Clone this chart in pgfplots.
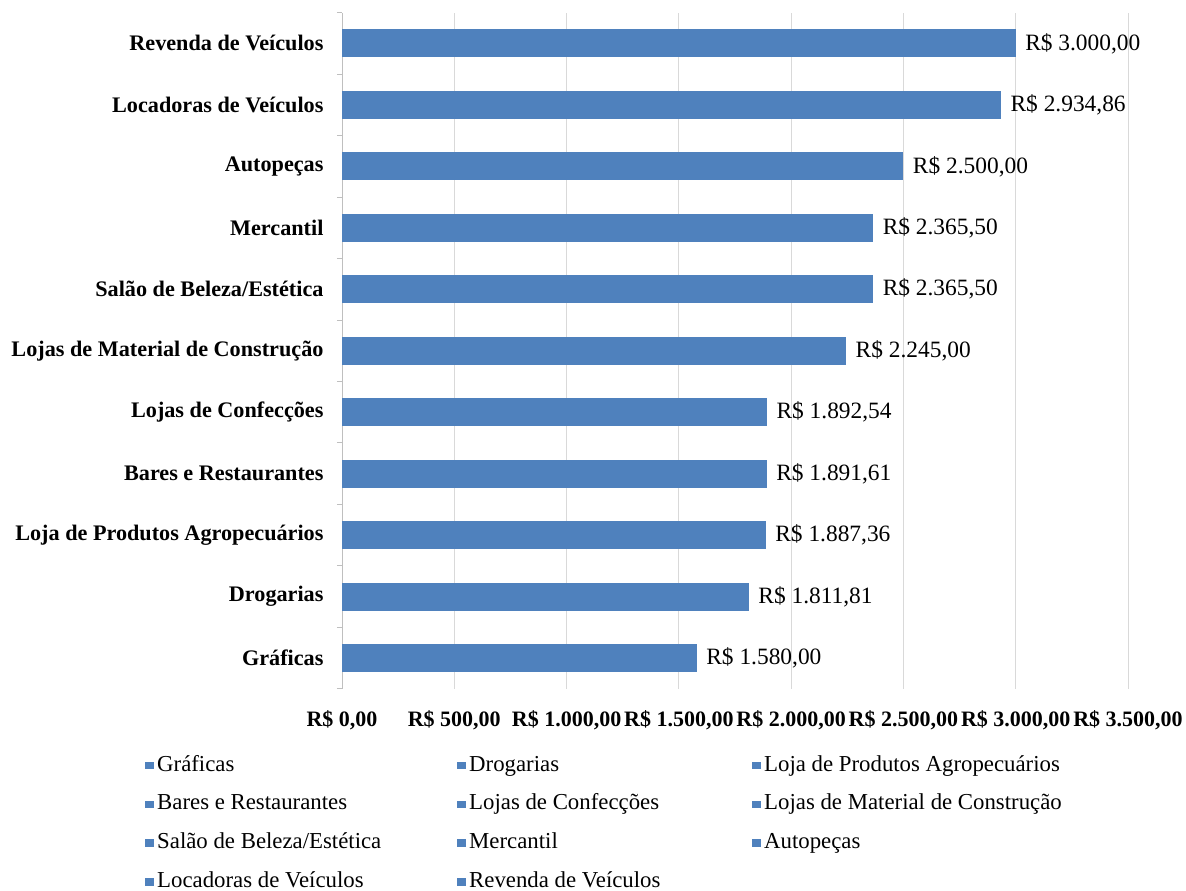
\documentclass[border=0pt]{standalone}
\usepackage{fontspec}
\setmainfont{Liberation Serif}
\usepackage{pgfplots}
\pgfplotsset{compat=1.18}
\definecolor{barblue}{HTML}{4F81BD}
\definecolor{gridgray}{HTML}{D9D9D9}
\definecolor{axgray}{HTML}{BFBFBF}
\pgfplotsset{mybar/.style={xbar, fill=barblue, draw=none, bar shift=0pt, bar width=28pt}}
\begin{document}
\begin{tikzpicture}
\begin{axis}[
  scale only axis, width=786pt, height=676pt,
  xmin=0, xmax=3500, ymin=-0.5, ymax=10.5,
  xbar,
  axis lines*=left,
  x axis line style={draw=none},
  y axis line style={draw=axgray, line width=0.8pt, -},
  xtick={0,500,...,3500},
  xticklabels={{R\$ 0,00},{R\$ 500,00},{R\$ 1.000,00},{R\$ 1.500,00},{R\$ 2.000,00},{R\$ 2.500,00},{R\$ 3.000,00},{R\$ 3.500,00}},
  xticklabel style={font=\fontsize{22}{25}\selectfont\bfseries, yshift=-18pt},
  ytick={0,...,10},
  yticklabels={Gráficas,Drogarias,Loja de Produtos Agropecuários,Bares e Restaurantes,Lojas de Confecções,Lojas de Material de Construção,Salão de Beleza/Estética,Mercantil,Autopeças,Locadoras de Veículos,Revenda de Veículos},
  yticklabel style={font=\fontsize{22.2}{25}\selectfont\bfseries, xshift=-15pt},
  minor ytick={-0.5,0.5,...,10.5},
  major tick length=0pt, minor tick length=5pt, tick align=outside,
  tick style={axgray, line width=0.8pt},
  xmajorgrids, major grid style={gridgray, line width=0.8pt},
  nodes near coords, point meta=explicit symbolic,
  every node near coord/.append style={black, anchor=west, xshift=6pt, font=\fontsize{23.4}{27}\selectfont},
  legend columns=3,
  legend cell align=left,
  legend image code/.code={\fill[barblue] (0pt,-3.8pt) rectangle (9pt,3.8pt); \path (12pt,0pt);},
  legend style={at={(-0.2506,-0.098)}, anchor=north west, draw=none, inner sep=0pt,
    font=\fontsize{22.8}{26}\selectfont, row sep=17.7pt, column sep=0pt,
    nodes={inner xsep=0pt, inner ysep=0pt, text height=16pt, text depth=5pt}},
]
\addplot[mybar] coordinates {(1580.00,0) [R\$ 1.580,00]};
\addlegendentry{\makebox[300pt][l]{Gráficas}}
\addplot[mybar] coordinates {(1811.81,1) [R\$ 1.811,81]};
\addlegendentry{\makebox[283pt][l]{Drogarias}}
\addplot[mybar] coordinates {(1887.36,2) [R\$ 1.887,36]};
\addlegendentry{Loja de Produtos Agropecuários}
\addplot[mybar] coordinates {(1891.61,3) [R\$ 1.891,61]};
\addlegendentry{\makebox[300pt][l]{Bares e Restaurantes}}
\addplot[mybar] coordinates {(1892.54,4) [R\$ 1.892,54]};
\addlegendentry{\makebox[283pt][l]{Lojas de Confecções}}
\addplot[mybar] coordinates {(2245.00,5) [R\$ 2.245,00]};
\addlegendentry{Lojas de Material de Construção}
\addplot[mybar] coordinates {(2365.50,6) [R\$ 2.365,50]};
\addlegendentry{\makebox[300pt][l]{Salão de Beleza/Estética}}
\addplot[mybar] coordinates {(2365.50,7) [R\$ 2.365,50]};
\addlegendentry{\makebox[283pt][l]{Mercantil}}
\addplot[mybar] coordinates {(2500.00,8) [R\$ 2.500,00]};
\addlegendentry{Autopeças}
\addplot[mybar] coordinates {(2934.86,9) [R\$ 2.934,86]};
\addlegendentry{\makebox[300pt][l]{Locadoras de Veículos}}
\addplot[mybar] coordinates {(3000.00,10) [R\$ 3.000,00]};
\addlegendentry{\makebox[283pt][l]{Revenda de Veículos}}
\coordinate (bl) at (rel axis cs:0,0);
\coordinate (tr) at (rel axis cs:1,1);
\end{axis}
\pgfresetboundingbox
\path[use as bounding box] ([shift={(-342pt,-202pt)}]bl) rectangle ([shift={(58pt,12.7pt)}]tr);
\end{tikzpicture}
\end{document}
